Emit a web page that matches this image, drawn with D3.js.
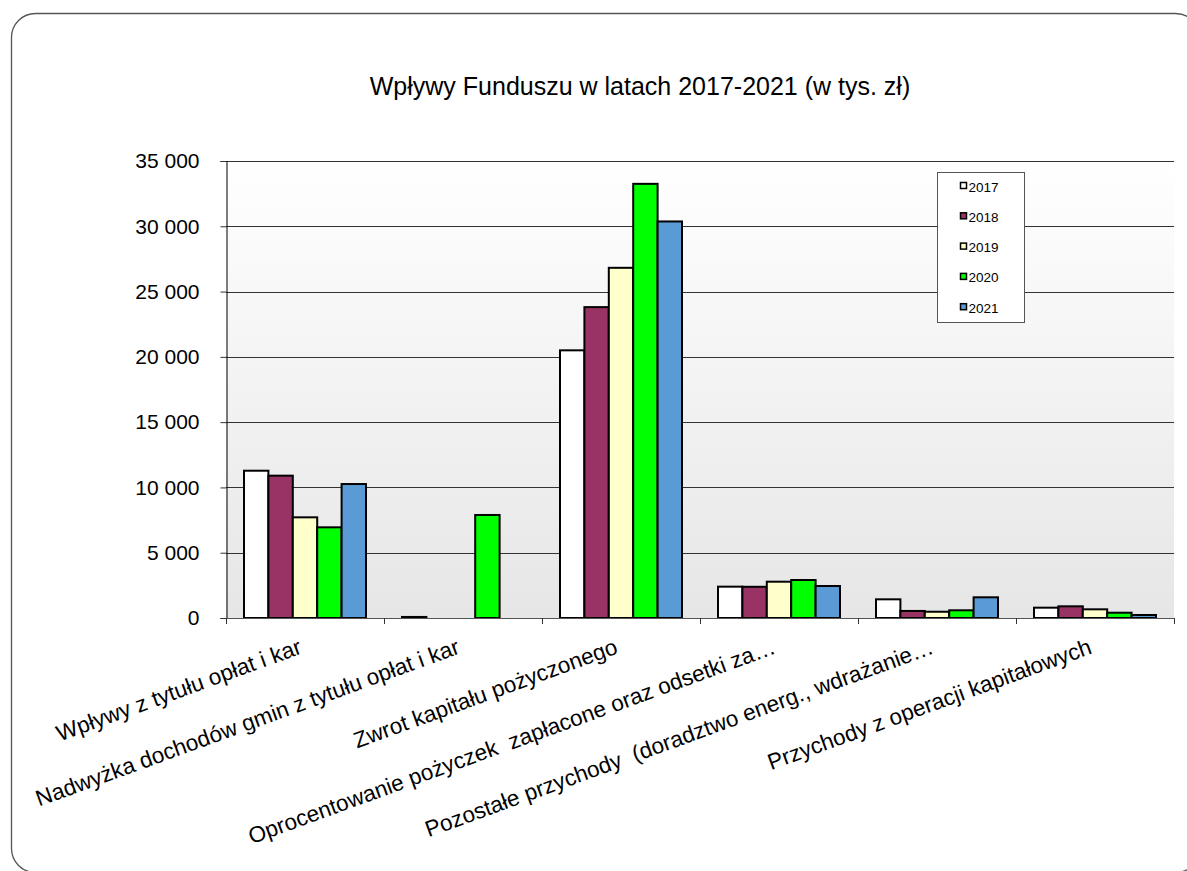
<!DOCTYPE html>
<meta charset="utf-8">
<style>
html, body { margin: 0; padding: 0; background: #fff; }
svg { display: block; font-family: "Liberation Sans", Arial, sans-serif; }
</style>
<body>
<script src="https://d3js.org/d3.v7.min.js"></script>
<script>

var categories = [
  "Wpływy z tytułu opłat i kar",
  "Nadwyżka dochodów gmin z tytułu opłat i kar",
  "Zwrot kapitału pożyczonego",
  "Oprocentowanie pożyczek  zapłacone oraz odsetki za…",
  "Pozostałe przychody  (doradztwo energ., wdrażanie…",
  "Przychody z operacji kapitałowych"
];
var years = ["2017", "2018", "2019", "2020", "2021"];
var v2017 = [11280, 80, 20500, 2400, 1430, 790];
var v2018 = [10900, 0, 23810, 2390, 540, 895];
var v2019 = [7710, 0, 26820, 2780, 480, 665];
var v2020 = [6945, 7890, 33250, 2910, 590, 405];
var v2021 = [10260, 0, 30370, 2450, 1585, 230];
var yTicks = [0, 5000, 10000, 15000, 20000, 25000, 30000, 35000];
var colors = ["#ffffff", "#993366", "#ffffcc", "#00ff00", "#5b9bd5"];
var title = "Wpływy Funduszu w latach 2017-2021 (w tys. zł)";

var series = [v2017, v2018, v2019, v2020, v2021];

var width = 1187,
    height = 871;

var svg = d3.select("body").append("svg")
    .attr("width", width)
    .attr("height", height);

// slide frame
svg.append("rect")
    .attr("x", 11.5).attr("y", 13.5)
    .attr("width", 1188).attr("height", 859)
    .attr("rx", 24).attr("ry", 24)
    .attr("fill", "#fff")
    .attr("stroke", "#555")
    .attr("stroke-width", 1.3);

var plotL = 226, plotR = 1174, plotT = 161, plotB = 618;

var x0 = d3.scaleBand().domain(d3.range(categories.length)).range([plotL, plotR]);
var x1 = d3.scaleBand().domain(d3.range(years.length)).range([18, x0.bandwidth() - 18]);
var y = d3.scaleLinear().domain([0, 35000]).range([plotB, plotT]);

var defs = svg.append("defs");
var grad = defs.append("linearGradient").attr("id", "bg")
    .attr("x1", 0).attr("y1", 0).attr("x2", 0).attr("y2", 1);
grad.append("stop").attr("offset", "0%").attr("stop-color", "#ffffff");
grad.append("stop").attr("offset", "100%").attr("stop-color", "#e6e6e6");

svg.append("rect")
    .attr("x", plotL).attr("y", plotT)
    .attr("width", plotR - plotL).attr("height", plotB - plotT)
    .attr("fill", "url(#bg)");

// gridlines
svg.append("g").selectAll("line")
    .data(yTicks.slice(1))
    .enter().append("line")
    .attr("x1", plotL).attr("x2", plotR)
    .attr("y1", function(d) { return Math.round(y(d)) + 0.5; })
    .attr("y2", function(d) { return Math.round(y(d)) + 0.5; })
    .attr("stroke", "#333")
    .attr("stroke-width", 1);

// y axis
var yAxis = d3.axisLeft(y)
    .tickValues(yTicks)
    .tickSize(6)
    .tickPadding(21)
    .tickFormat(function(d) { return d3.format(",")(d).replace(/,/g, " "); });

var gy = svg.append("g")
    .attr("transform", "translate(" + (plotL + 0.5) + ",0)")
    .call(yAxis);
gy.select(".domain").attr("stroke", "#000");
gy.selectAll(".tick line").attr("stroke", "#333");
gy.selectAll("text")
    .attr("font-family", "Liberation Sans, Arial, sans-serif")
    .attr("font-size", 21)
    .attr("fill", "#000");

// bars
var groups = svg.append("g").selectAll("g")
    .data(categories)
    .enter().append("g")
    .attr("transform", function(d, i) { return "translate(" + x0(i) + ",0)"; });

groups.selectAll("rect")
    .data(function(d, i) { return series.map(function(s, k) { return { k: k, v: s[i] }; }).filter(function(e) { return e.v > 0; }); })
    .enter().append("rect")
    .attr("x", function(d) { return x1(d.k); })
    .attr("width", x1.bandwidth())
    .attr("y", function(d) { return y(d.v); })
    .attr("height", function(d) { return y(0) - y(d.v); })
    .attr("fill", function(d) { return colors[d.k]; })
    .attr("stroke", "#000")
    .attr("stroke-width", 2);

// x axis
svg.append("line")
    .attr("x1", plotL).attr("x2", plotR)
    .attr("y1", plotB + 0.5).attr("y2", plotB + 0.5)
    .attr("stroke", "#555");
svg.append("g").selectAll("line")
    .data(d3.range(categories.length + 1))
    .enter().append("line")
    .attr("x1", function(i) { return Math.round(plotL + i * x0.bandwidth()) + 0.5; })
    .attr("x2", function(i) { return Math.round(plotL + i * x0.bandwidth()) + 0.5; })
    .attr("y1", plotB).attr("y2", plotB + 6)
    .attr("stroke", "#333");

svg.append("g").selectAll("text")
    .data(categories)
    .enter().append("text")
    .attr("transform", function(d, i) {
      return "translate(" + (x0(i) + x0.bandwidth() / 2 - 2) + "," + 653 + ") rotate(-20)";
    })
    .attr("text-anchor", "end")
    .attr("font-size", 22.5)
    .attr("fill", "#000")
    .style("white-space", "pre")
    .text(function(d) { return d; });

// title
svg.append("text")
    .attr("x", 640).attr("y", 95)
    .attr("text-anchor", "middle")
    .attr("font-size", 25)
    .attr("fill", "#000")
    .text(title);

// legend
var lg = svg.append("g").attr("transform", "translate(937.5,172.5)");
lg.append("rect")
    .attr("width", 87).attr("height", 150)
    .attr("fill", "#fff")
    .attr("stroke", "#555");
var items = lg.selectAll("g.item")
    .data(years)
    .enter().append("g")
    .attr("class", "item")
    .attr("transform", function(d, i) { return "translate(0," + (14 + i * 30.3) + ")"; });
items.append("rect")
    .attr("x", 23).attr("y", -4)
    .attr("width", 6).attr("height", 6)
    .attr("fill", function(d, i) { return colors[i]; })
    .attr("stroke", "#000")
    .attr("stroke-width", 1.5);
items.append("text")
    .attr("x", 31).attr("y", 5)
    .attr("font-size", 13.5)
    .attr("fill", "#000")
    .text(function(d) { return d; });

</script>
</body>
